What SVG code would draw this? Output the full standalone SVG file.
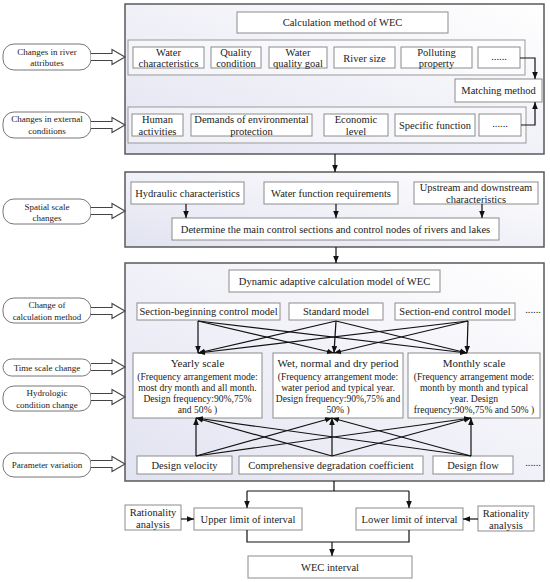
<svg xmlns="http://www.w3.org/2000/svg" width="550" height="582" viewBox="0 0 550 582">
<defs>
<linearGradient id="pg" x1="1" y1="0" x2="0" y2="1">
<stop offset="0" stop-color="#ffffff"/>
<stop offset="1" stop-color="#e2e3f1"/>
</linearGradient>
<marker id="ah" viewBox="0 0 10 10" refX="10" refY="5" markerWidth="7" markerHeight="7" markerUnits="userSpaceOnUse" orient="auto"><path d="M0,1 L10,5 L0,9 z" fill="#111"/></marker>
</defs>
<style>
.panel{fill:url(#pg);stroke:#5a5a5a;stroke-width:1.5}
.box{fill:#fff;stroke:#8c8c8c;stroke-width:1}
.row{fill:#fff;fill-opacity:0.45;stroke:#999;stroke-width:1}
.lbl{fill:#fff;stroke:#777;stroke-width:1}
.fat{fill:#fff;stroke:#444;stroke-width:1.1}
text{font-family:"Liberation Serif","Times New Roman",serif;fill:#222;text-anchor:middle}
.t{font-size:10.5px}
.s{font-size:9px}
.h{font-size:11px}
.sub{font-size:9.6px}
.c{fill:none;stroke:#111;stroke-width:1.2}
.a{marker-end:url(#ah)}
</style>
<rect width="550" height="582" fill="#fff"/>

<!-- panels -->
<g id="panel1">
<rect class="panel" x="125" y="4" width="419" height="150"/>
<rect class="row" x="128" y="40" width="397" height="35"/>
<rect class="row" x="128" y="107" width="398" height="36"/>
</g>
<g id="panel2"><rect class="panel" x="125" y="172" width="419" height="75"/></g>
<g id="panel3"><rect class="panel" x="125" y="263" width="419" height="218"/></g>

<!-- left labels -->
<g id="lbl-river"><rect class="lbl" x="3" y="44" width="88" height="26" rx="11"/><text class="s" x="47" y="55">Changes in river</text><text class="s" x="47" y="66">attributes</text></g>
<g id="lbl-external"><rect class="lbl" x="3" y="112" width="88" height="26" rx="11"/><text class="s" x="47" y="122">Changes in external</text><text class="s" x="47" y="134">conditions</text></g>
<g id="lbl-spatial"><rect class="lbl" x="3" y="199" width="88" height="25" rx="11"/><text class="s" x="47" y="210">Spatial scale</text><text class="s" x="47" y="220.5">changes</text></g>
<g id="lbl-method"><rect class="lbl" x="3" y="298" width="88" height="25" rx="11"/><text class="s" x="47" y="308">Change of</text><text class="s" x="47" y="320">calculation method</text></g>
<g id="lbl-time"><rect class="lbl" x="3" y="359" width="88" height="17" rx="8.5"/><text class="s" x="47" y="371">Time scale change</text></g>
<g id="lbl-hydro"><rect class="lbl" x="3" y="386" width="88" height="25" rx="11"/><text class="s" x="47" y="396">Hydrologic</text><text class="s" x="47" y="408">condition change</text></g>
<g id="lbl-param"><rect class="lbl" x="3" y="453" width="88" height="24" rx="11"/><text class="s" x="47" y="468">Parameter variation</text></g>

<!-- panel 1 nodes -->
<g id="n-calc"><rect class="box" x="237" y="12" width="211" height="21"/><text class="t" x="342.5" y="26">Calculation method of WEC</text></g>
<g id="n-wchar"><rect class="box" x="133" y="47" width="71" height="21"/><text class="t" x="168.5" y="55.5">Water</text><text class="t" x="168.5" y="67">characteristics</text></g>
<g id="n-qual"><rect class="box" x="211" y="47" width="50" height="21"/><text class="t" x="236" y="55.5">Quality</text><text class="t" x="236" y="67">condition</text></g>
<g id="n-goal"><rect class="box" x="269" y="47" width="58" height="21"/><text class="t" x="298" y="55.5">Water</text><text class="t" x="298" y="67">quality goal</text></g>
<g id="n-size"><rect class="box" x="334" y="47" width="61" height="21"/><text class="t" x="364.5" y="61.5">River size</text></g>
<g id="n-poll"><rect class="box" x="401" y="47" width="71" height="21"/><text class="t" x="436.5" y="55.5">Polluting</text><text class="t" x="436.5" y="67">property</text></g>
<g id="n-dots1"><rect class="box" x="478" y="47" width="42" height="21"/><text class="t" x="499" y="60">......</text></g>
<g id="n-match"><rect class="box" x="455" y="79" width="87" height="23"/><text class="t" x="498.5" y="94">Matching method</text></g>
<g id="n-human"><rect class="box" x="132" y="114" width="51" height="22"/><text class="t" x="157.5" y="122.5">Human</text><text class="t" x="157.5" y="135">activities</text></g>
<g id="n-demand"><rect class="box" x="191" y="114" width="121" height="22"/><text class="t" x="251.5" y="122.5">Demands of environmental</text><text class="t" x="251.5" y="135">protection</text></g>
<g id="n-econ"><rect class="box" x="324" y="114" width="64" height="22"/><text class="t" x="356" y="122.5">Economic</text><text class="t" x="356" y="135">level</text></g>
<g id="n-spec"><rect class="box" x="395" y="114" width="80" height="22"/><text class="t" x="435" y="128.5">Specific function</text></g>
<g id="n-dots2"><rect class="box" x="479" y="114" width="42" height="22"/><text class="t" x="500" y="127">......</text></g>

<!-- panel 2 nodes -->
<g id="n-hydr"><rect class="box" x="131" y="182" width="113" height="22"/><text class="t" x="187.5" y="196.5">Hydraulic characteristics</text></g>
<g id="n-wfr"><rect class="box" x="264" y="182" width="134" height="22"/><text class="t" x="331" y="196.5">Water function requirements</text></g>
<g id="n-updown"><rect class="box" x="414" y="182" width="124" height="22"/><text class="t" x="476" y="190.5">Upstream and downstream</text><text class="t" x="476" y="202.5">characteristics</text></g>
<g id="n-determine"><rect class="box" x="172" y="218" width="327" height="22"/><text class="t" x="335.5" y="232.5">Determine the main control sections and control nodes of rivers and lakes</text></g>

<!-- panel 3 nodes -->
<g id="n-dyn"><rect class="box" x="229" y="270" width="211" height="22"/><text class="t" x="334.5" y="284.5">Dynamic adaptive calculation model of WEC</text></g>
<g id="n-sbeg"><rect class="box" x="137" y="303" width="143" height="17"/><text class="t" x="208.5" y="315">Section-beginning control model</text></g>
<g id="n-std"><rect class="box" x="289" y="303" width="94" height="17"/><text class="t" x="336" y="315">Standard model</text></g>
<g id="n-send"><rect class="box" x="395" y="303" width="120" height="17"/><text class="t" x="455" y="315">Section-end control model</text></g>
<text class="t" x="533" y="313">......</text>
<g id="n-yearly"><rect class="box" x="133" y="353" width="129" height="65"/>
<text class="h" x="197.5" y="367">Yearly scale</text>
<text class="sub" x="197.5" y="380">(Frequency arrangement mode:</text>
<text class="sub" x="197.5" y="391">most dry month and all month.</text>
<text class="sub" x="197.5" y="402">Design frequency:90%,75%</text>
<text class="sub" x="197.5" y="413">and 50% )</text></g>
<g id="n-wet"><rect class="box" x="273" y="353" width="130" height="65"/>
<text class="h" x="338" y="367">Wet, normal and dry period</text>
<text class="sub" x="338" y="380">(Frequency arrangement mode:</text>
<text class="sub" x="338" y="391">water period and typical year.</text>
<text class="sub" x="338" y="402">Design frequency:90%,75% and</text>
<text class="sub" x="338" y="413">50% )</text></g>
<g id="n-monthly"><rect class="box" x="408" y="353" width="132" height="65"/>
<text class="h" x="474" y="367">Monthly scale</text>
<text class="sub" x="474" y="380">(Frequency arrangement mode:</text>
<text class="sub" x="474" y="391">month by month and typical</text>
<text class="sub" x="474" y="402">year. Design</text>
<text class="sub" x="474" y="413">frequency:90%,75% and 50% )</text></g>
<g id="n-vel"><rect class="box" x="137" y="456" width="95" height="18"/><text class="t" x="184.5" y="468.5">Design velocity</text></g>
<g id="n-comp"><rect class="box" x="239" y="456" width="184" height="18"/><text class="t" x="331" y="468.5">Comprehensive degradation coefficient</text></g>
<g id="n-flow"><rect class="box" x="433" y="456" width="80" height="18"/><text class="t" x="473" y="468.5">Design flow</text></g>
<text class="t" x="533" y="466">......</text>

<!-- bottom nodes -->
<g id="n-ratl"><rect class="box" x="125" y="505" width="56" height="25"/><text class="t" x="153" y="515.5">Rationality</text><text class="t" x="153" y="527.5">analysis</text></g>
<g id="n-upper"><rect class="box" x="194" y="508" width="108" height="22"/><text class="t" x="248" y="522.5">Upper limit of interval</text></g>
<g id="n-lower"><rect class="box" x="356" y="508" width="107" height="22"/><text class="t" x="409.5" y="522.5">Lower limit of interval</text></g>
<g id="n-ratr"><rect class="box" x="478" y="506" width="56" height="25"/><text class="t" x="506" y="516.5">Rationality</text><text class="t" x="506" y="528.5">analysis</text></g>
<g id="n-wec"><rect class="box" x="248" y="556" width="164" height="22"/><text class="t" x="330" y="570.5">WEC interval</text></g>

<!-- connectors -->
<g id="connectors">
<g id="block-arrows">
<path class="fat" d="M91,53.5 H112 V49.5 L125,57 L112,64.5 V60.5 H91"/>
<path class="fat" d="M91,121.5 H112 V117.5 L125,125 L112,132.5 V128.5 H91"/>
<path class="fat" d="M91,207.5 H112 V203.5 L125,211 L112,218.5 V214.5 H91"/>
<path class="fat" d="M91,307.5 H112 V303.5 L125,311 L112,318.5 V314.5 H91"/>
<path class="fat" d="M91,363.5 H112 V359.5 L125,367 L112,374.5 V370.5 H91"/>
<path class="fat" d="M91,393.5 H112 V389.5 L125,397 L112,404.5 V400.5 H91"/>
<path class="fat" d="M91,460.5 H112 V456.5 L125,464 L112,471.5 V467.5 H91"/>
</g>
<path class="c a" d="M520,58 H535 V79"/>
<path class="c a" d="M521,125 H535 V102"/>
<path class="c a" d="M335,154 V172"/>
<path class="c a" d="M186,204 V218"/>
<path class="c a" d="M336,204 V218"/>
<path class="c a" d="M482,204 V218"/>
<path class="c a" d="M336,247 V263"/>
<!-- models to scales -->
<path class="c a" d="M198,321 L198,353"/>
<path class="c a" d="M198,321 L334,353"/>
<path class="c a" d="M198,321 L467,353"/>
<path class="c a" d="M336,321 L198,353"/>
<path class="c a" d="M336,321 L334,353"/>
<path class="c a" d="M336,321 L467,353"/>
<path class="c a" d="M468,321 L198,353"/>
<path class="c a" d="M468,321 L334,353"/>
<path class="c a" d="M468,321 L467,353"/>
<!-- parameters to scales -->
<path class="c a" d="M196,456 L196,418"/>
<path class="c a" d="M196,456 L332,418"/>
<path class="c a" d="M196,456 L471,418"/>
<path class="c a" d="M332,456 L196,418"/>
<path class="c a" d="M332,456 L332,418"/>
<path class="c a" d="M332,456 L471,418"/>
<path class="c a" d="M471,456 L196,418"/>
<path class="c a" d="M471,456 L332,418"/>
<path class="c a" d="M471,456 L471,418"/>
<!-- interval -->
<path class="c" d="M334,481 V491 M247,491 H409"/>
<path class="c a" d="M247,491 V508"/>
<path class="c a" d="M409,491 V508"/>
<path class="c a" d="M181,519 H194"/>
<path class="c a" d="M478,519 H463"/>
<path class="c" d="M247,530 V542 H409 V530"/>
<path class="c a" d="M332,542 V556"/>
</g>
</svg>
